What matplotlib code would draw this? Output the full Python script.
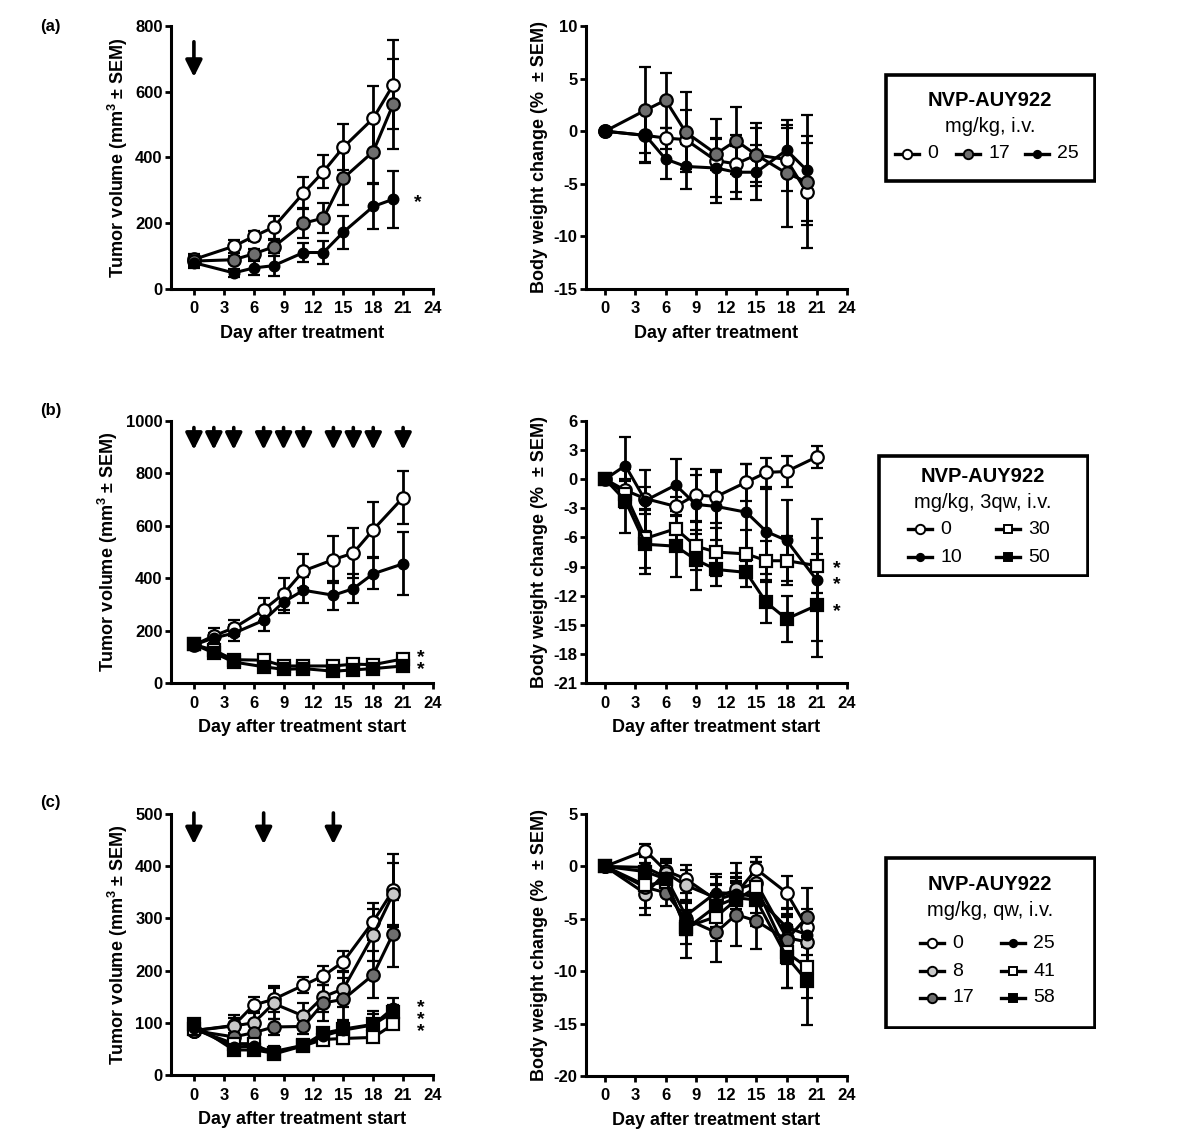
import numpy as np
import matplotlib
matplotlib.use("Agg")
import matplotlib.pyplot as plt
from matplotlib.lines import Line2D
from matplotlib.patches import Rectangle

plt.rcParams['font.family'] = ['Liberation Sans', 'DejaVu Sans']
plt.rcParams['font.weight'] = 'bold'
plt.rcParams['axes.unicode_minus'] = False
plt.rcParams['mathtext.fontset'] = 'custom'
plt.rcParams['mathtext.bf'] = 'Liberation Sans:bold'
plt.rcParams['mathtext.rm'] = 'Liberation Sans:bold'

# ------------------------------------------------------------------
# Data
# ------------------------------------------------------------------
days_a = [0, 4, 6, 8, 11, 13, 15, 18, 20]
tv_a_0 = [90, 130, 160, 188, 292, 357, 431, 519, 621]
tv_a_0_sem = [15, 20, 15, 35, 50, 50, 70, 100, 135]
tv_a_17 = [85, 89, 107, 128, 200, 216, 337, 418, 562]
tv_a_17_sem = [15, 10, 15, 20, 45, 45, 80, 100, 137]
tv_a_25 = [80, 49, 64, 71, 111, 111, 173, 251, 273]
tv_a_25_sem = [15, 12, 20, 30, 30, 35, 50, 70, 87]

bw_a_0 = [0, -0.4, -0.65, -0.8, -2.8, -3.1, -2.25, -2.7, -5.8]
bw_a_0_sem = [0, 2.5, 1.0, 2.8, 4.0, 2.7, 3.0, 3.0, 5.3]
bw_a_17 = [0, 2.0, 2.95, -0.1, -2.15, -0.9, -2.25, -4.0, -4.8]
bw_a_17_sem = [0, 4.1, 2.6, 3.8, 1.5, 3.2, 2.6, 5.1, 3.7]
bw_a_25 = [0, -0.4, -2.65, -3.35, -3.5, -3.9, -3.9, -1.8, -3.7]
bw_a_25_sem = [0, 2.6, 1.9, 2.1, 2.8, 2.5, 2.6, 2.4, 5.2]

days_b = [0, 2, 4, 7, 9, 11, 14, 16, 18, 21]
tv_b_0 = [145, 180, 210, 280, 340, 428, 471, 496, 585, 708]
tv_b_0_sem = [10, 30, 30, 45, 60, 65, 90, 95, 105, 102]
tv_b_10 = [145, 172, 190, 239, 309, 354, 335, 360, 417, 455]
tv_b_10_sem = [10, 20, 30, 40, 40, 50, 55, 55, 60, 120]
tv_b_30 = [147, 125, 89, 87, 65, 65, 65, 72, 70, 92]
tv_b_30_sem = [10, 15, 10, 10, 8, 8, 8, 8, 8, 10]
tv_b_50 = [147, 115, 80, 62, 52, 55, 45, 50, 55, 65]
tv_b_50_sem = [10, 15, 8, 8, 6, 6, 6, 6, 6, 8]

bw_b_0 = [0, -1.15, -2.0, -2.8, -1.6, -1.8, -0.3, 0.7, 0.8, 2.3]
bw_b_0_sem = [0, 1.0, 1.2, 1.0, 2.7, 2.7, 1.9, 1.5, 1.6, 1.15]
bw_b_10 = [0, 1.4, -2.2, -0.6, -2.6, -2.8, -3.4, -5.4, -6.3, -10.4]
bw_b_10_sem = [0, 2.9, 3.1, 2.7, 3.0, 3.5, 5.0, 4.4, 4.2, 6.3]
bw_b_30 = [0, -1.5, -6.1, -5.1, -6.9, -7.5, -7.7, -8.4, -8.4, -8.9]
bw_b_30_sem = [0, 1.5, 3.0, 1.8, 2.5, 2.5, 2.5, 2.0, 2.5, 2.8]
bw_b_50 = [0, -2.2, -6.7, -6.9, -8.3, -9.3, -9.6, -12.7, -14.4, -13.0]
bw_b_50_sem = [0, 3.3, 3.1, 3.2, 3.1, 1.7, 1.5, 2.1, 2.4, 5.3]

days_c = [0, 4, 6, 8, 11, 13, 15, 18, 20]
tv_c_0 = [85, 95, 134, 145, 172, 190, 217, 294, 354]
tv_c_0_sem = [8, 15, 15, 25, 15, 18, 20, 35, 70]
tv_c_8 = [85, 94, 100, 137, 113, 150, 165, 268, 347]
tv_c_8_sem = [8, 20, 20, 30, 25, 30, 35, 50, 60]
tv_c_17 = [85, 73, 81, 92, 93, 138, 145, 192, 271]
tv_c_17_sem = [8, 15, 15, 15, 15, 35, 40, 45, 65]
tv_c_25 = [90, 54, 55, 45, 57, 75, 86, 96, 128]
tv_c_25_sem = [8, 10, 10, 10, 8, 10, 15, 20, 20]
tv_c_41 = [88, 60, 60, 40, 56, 68, 70, 72, 97]
tv_c_41_sem = [8, 10, 10, 8, 8, 8, 10, 8, 8]
tv_c_58 = [97, 48, 48, 42, 57, 80, 88, 97, 120]
tv_c_58_sem = [8, 10, 10, 10, 8, 10, 15, 25, 15]

bw_c_0 = [0, 1.5, -0.4, -1.2, -3.2, -2.6, -0.26, -2.5, -5.8]
bw_c_0_sem = [0, 0.6, 0.9, 1.3, 1.5, 1.5, 1.2, 1.6, 1.7]
bw_c_8 = [0, -2.6, -0.6, -1.8, -3.0, -2.2, -1.6, -6.8, -7.2]
bw_c_8_sem = [0, 2.0, 1.3, 1.5, 2.0, 2.5, 2.0, 2.3, 2.6]
bw_c_17 = [0, -2.0, -2.5, -5.0, -6.3, -4.6, -5.2, -7.0, -4.86]
bw_c_17_sem = [0, 2.0, 1.3, 1.5, 2.8, 3.0, 2.7, 2.3, 2.8]
bw_c_25 = [0, -0.1, -1.0, -4.7, -2.5, -2.6, -2.9, -5.8, -6.5]
bw_c_25_sem = [0, 1.2, 1.5, 1.5, 1.8, 2.0, 2.6, 1.8, 2.0]
bw_c_41 = [0, -1.8, -1.5, -5.8, -4.8, -3.2, -2.0, -8.2, -9.6]
bw_c_41_sem = [0, 1.0, 1.3, 1.6, 2.3, 1.8, 2.4, 3.4, 3.0]
bw_c_58 = [0, -0.5, -1.2, -6.0, -3.8, -3.0, -3.2, -8.6, -10.9]
bw_c_58_sem = [0, 0.8, 1.5, 2.7, 2.0, 2.0, 2.5, 3.0, 4.2]

arrows_a = [0]
arrows_b = [0, 2, 4, 7, 9, 11, 14, 16, 18, 21]
arrows_c = [0, 7, 14]

# ------------------------------------------------------------------
# Styles
# ------------------------------------------------------------------
WHITE, LGRAY, DGRAY, BLACK = 'white', '#c8c8c8', '#6e6e6e', 'black'
STY = {
    'o_white': ('o', WHITE, 9), 'o_lgray': ('o', LGRAY, 9), 'o_dgray': ('o', DGRAY, 9),
    'o_black': ('o', BLACK, 7), 's_white': ('s', WHITE, 8), 's_black': ('s', BLACK, 8),
}

W, H = 1200, 1137
fig = plt.figure(figsize=(W / 100, H / 100), dpi=100)


def px_axes(x0, y0, x1, y1):
    return fig.add_axes([x0 / W, 1 - y1 / H, (x1 - x0) / W, (y1 - y0) / H])


def series(ax, x, y, err, style):
    m, fc, ms = STY[style]
    ax.errorbar(x, y, yerr=err, fmt='-' + m, color='black', mfc=fc, mec='black',
                ms=ms, mew=1.6, lw=2.2, elinewidth=2.0, capsize=4.5, capthick=2.0,
                clip_on=False, zorder=3)


def style_axes(ax, xlim, ylim, yticks, ylabel, xlabel):
    ax.set_xlim(*xlim)
    ax.set_ylim(*ylim)
    ax.set_xticks(range(0, 25, 3))
    ax.set_yticks(yticks)
    for s in ['top', 'right']:
        ax.spines[s].set_visible(False)
    for s in ['left', 'bottom']:
        ax.spines[s].set_linewidth(2.2)
    ax.tick_params(direction='out', length=4, width=2.0, labelsize=12, pad=2)
    ax.tick_params(axis='x', pad=5)
    for lab in ax.get_xticklabels() + ax.get_yticklabels():
        lab.set_fontweight('bold')
    ax.set_xlabel(xlabel, fontsize=13, fontweight='bold', labelpad=6)
    ax.set_ylabel(ylabel, fontsize=13, fontweight='bold', labelpad=4)


def arrows(ax, days, top, tip):
    for d in days:
        ax.annotate('', xy=(d, tip), xytext=(d, top),
                    arrowprops=dict(arrowstyle='-|>,head_length=1.0,head_width=0.5',
                                    color='black', lw=2.6, shrinkA=0, shrinkB=0))


def stars(ax, x, y_mid, n, spacing):
    # stacked significance marks drawn as one text block
    ax.text(x, y_mid, '\n'.join(['*'] * n), fontsize=14, fontweight='bold',
            ha='center', va='center', linespacing=spacing)


TV = 'Tumor volume (mm$^{\\mathbf{3}}$ \u00b1 SEM)'
BW = 'Body weight change (%  \u00b1 SEM)'

# ---------------- (a) ----------------
ax = px_axes(171, 26, 433, 289)
series(ax, days_a, tv_a_0, tv_a_0_sem, 'o_white')
series(ax, days_a, tv_a_17, tv_a_17_sem, 'o_dgray')
series(ax, days_a, tv_a_25, tv_a_25_sem, 'o_black')
style_axes(ax, (-2.3, 24), (0, 800), range(0, 801, 200), TV, 'Day after treatment')
arrows(ax, arrows_a, 752, 645)
stars(ax, 22.5, 262, 1, 1.0)

ax = px_axes(586, 26, 847, 289)
series(ax, days_a, bw_a_0, bw_a_0_sem, 'o_white')
series(ax, days_a, bw_a_17, bw_a_17_sem, 'o_dgray')
series(ax, days_a, bw_a_25, bw_a_25_sem, 'o_black')
style_axes(ax, (-1.9, 24), (-15, 10), range(-15, 11, 5), BW, 'Day after treatment')

# ---------------- (b) ----------------
ax = px_axes(171, 421, 433, 683)
series(ax, days_b, tv_b_0, tv_b_0_sem, 'o_white')
series(ax, days_b, tv_b_10, tv_b_10_sem, 'o_black')
series(ax, days_b, tv_b_30, tv_b_30_sem, 's_white')
series(ax, days_b, tv_b_50, tv_b_50_sem, 's_black')
style_axes(ax, (-2.3, 24), (0, 1000), range(0, 1001, 200), TV, 'Day after treatment start')
arrows(ax, arrows_b, 975, 890)
stars(ax, 22.8, 75, 2, 0.62)

ax = px_axes(586, 421, 847, 683)
series(ax, days_b, bw_b_0, bw_b_0_sem, 'o_white')
series(ax, days_b, bw_b_10, bw_b_10_sem, 'o_black')
series(ax, days_b, bw_b_30, bw_b_30_sem, 's_white')
series(ax, days_b, bw_b_50, bw_b_50_sem, 's_black')
style_axes(ax, (-1.9, 24), (-21, 6), range(-21, 7, 3), BW, 'Day after treatment start')
stars(ax, 23.0, -10.0, 2, 0.95)
stars(ax, 23.0, -13.6, 1, 1.0)

# ---------------- (c) ----------------
ax = px_axes(171, 814, 433, 1075)
series(ax, days_c, tv_c_0, tv_c_0_sem, 'o_white')
series(ax, days_c, tv_c_8, tv_c_8_sem, 'o_lgray')
series(ax, days_c, tv_c_17, tv_c_17_sem, 'o_dgray')
series(ax, days_c, tv_c_41, tv_c_41_sem, 's_white')
series(ax, days_c, tv_c_58, tv_c_58_sem, 's_black')
series(ax, days_c, tv_c_25, tv_c_25_sem, 'o_black')
style_axes(ax, (-2.3, 24), (0, 500), range(0, 501, 100), TV, 'Day after treatment start')
arrows(ax, arrows_c, 502, 442)
stars(ax, 22.8, 106, 3, 0.6)

ax = px_axes(586, 814, 847, 1076)
series(ax, days_c, bw_c_0, bw_c_0_sem, 'o_white')
series(ax, days_c, bw_c_8, bw_c_8_sem, 'o_lgray')
series(ax, days_c, bw_c_17, bw_c_17_sem, 'o_dgray')
series(ax, days_c, bw_c_25, bw_c_25_sem, 'o_black')
series(ax, days_c, bw_c_41, bw_c_41_sem, 's_white')
series(ax, days_c, bw_c_58, bw_c_58_sem, 's_black')
style_axes(ax, (-1.9, 24), (-20, 5), range(-20, 6, 5), BW, 'Day after treatment start')


# ---------------- legends ----------------
def legend_box(x0, y0, x1, y1, title, sub, title_y, sub_y, entries):
    lax = px_axes(x0, y0, x1, y1)
    lax.set_xlim(x0, x1)
    lax.set_ylim(y1, y0)
    lax.axis('off')
    lax.add_patch(Rectangle((x0 + 1.5, y0 + 1.5), x1 - x0 - 3, y1 - y0 - 3,
                            fill=False, lw=2.6, ec='black'))
    cx = (x0 + x1) / 2
    lax.text(cx, title_y, title, ha='center', va='center', fontsize=14.5, fontweight='bold')
    lax.text(cx, sub_y, sub, ha='center', va='center', fontsize=14.5, fontweight='normal')
    for mx, my, style, label in entries:
        m, fc, ms = STY[style]
        lax.add_line(Line2D([mx - 12, mx + 12], [my, my], color='black', lw=2.4))
        lax.add_line(Line2D([mx], [my], marker=m, mfc=fc, mec='black',
                            ms=ms * 0.75, mew=1.4))
        lax.text(mx + 20, my, label, ha='left', va='center', fontsize=14,
                 fontweight='normal')


legend_box(884, 73, 1096, 183, 'NVP-AUY922', 'mg/kg, i.v.', 101, 127,
           [(907, 154, 'o_white', '0'), (968, 154, 'o_dgray', '17'),
            (1037, 154, 'o_black', '25')])
legend_box(877, 454, 1089, 577, 'NVP-AUY922', 'mg/kg, 3qw, i.v.', 477, 503,
           [(920, 529, 'o_white', '0'), (1008, 529, 's_white', '30'),
            (920, 557, 'o_black', '10'), (1008, 557, 's_black', '50')])
legend_box(884, 856, 1096, 1029, 'NVP-AUY922', 'mg/kg, qw, i.v.', 884, 910,
           [(932, 943, 'o_white', '0'), (1013, 943, 'o_black', '25'),
            (932, 971, 'o_lgray', '8'), (1013, 971, 's_white', '41'),
            (932, 998, 'o_dgray', '17'), (1013, 998, 's_black', '58')])

# panel letters
for lab, y in [('(a)', 27), ('(b)', 410), ('(c)', 803)]:
    fig.text(40 / W, 1 - y / H, lab, fontsize=12, fontweight='bold', ha='left', va='center')

fig.savefig('out.png', dpi=100)
